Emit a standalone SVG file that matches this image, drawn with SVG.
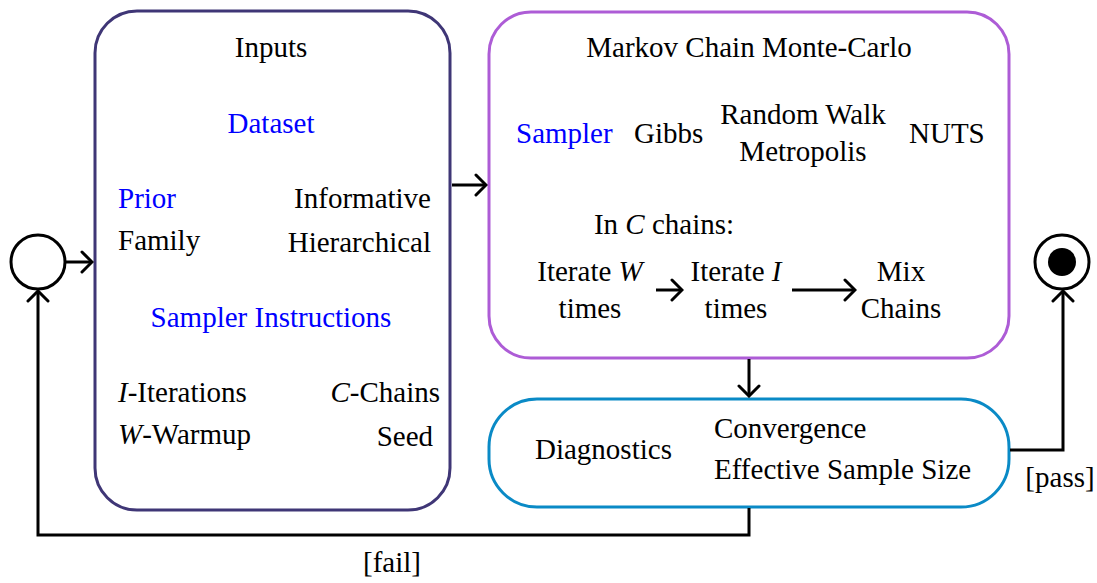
<svg xmlns="http://www.w3.org/2000/svg" width="1097" height="583" viewBox="0 0 1097 583" font-family="'Liberation Serif', Tinos, 'Times New Roman', 'Noto Serif', 'DejaVu Serif', serif">
  <defs>
    <style>
      text { font-family: "Liberation Serif", Tinos, "Times New Roman", "Noto Serif", "DejaVu Serif", serif; font-size: 29px; fill: #000; }
      .c { text-anchor: middle; }
      .r { text-anchor: end; }
      .blue { fill: #0000ff; }
      .box { fill: none; stroke-width: 3; }
      .edge { fill: none; stroke: #000; stroke-width: 3; }
    </style>
    <marker id="arrow" viewBox="-14 -13 16 26" markerWidth="16" markerHeight="26" refX="0" refY="0" orient="auto" markerUnits="userSpaceOnUse">
      <path d="M -10 -10 L 0 0 L -10 10" fill="none" stroke="#000" stroke-width="3" stroke-linecap="round" stroke-linejoin="miter"/>
    </marker>
  </defs>

  <rect width="1097" height="583" fill="#fff"/>

  <!-- start state -->
  <g id="start">
    <circle cx="38" cy="262" r="27" fill="none" stroke="#000" stroke-width="3"/>
  </g>

  <!-- end state -->
  <g id="end">
    <circle cx="1062" cy="262" r="27" fill="none" stroke="#000" stroke-width="3"/>
    <circle cx="1062" cy="262" r="14" fill="#000"/>
  </g>

  <!-- inputs box -->
  <g id="inputs">
    <rect class="box" x="95" y="11" width="355" height="499" rx="42" ry="42" stroke="#3f3676"/>
    <text class="c" x="271" y="57">Inputs</text>
    <text class="c blue" x="271" y="133">Dataset</text>
    <text class="blue" x="118" y="208">Prior</text>
    <text x="118" y="250">Family</text>
    <text class="r" x="431" y="208">Informative</text>
    <text class="r" x="431" y="252">Hierarchical</text>
    <text class="c blue" x="271" y="327">Sampler Instructions</text>
    <text x="118" y="402"><tspan font-style="italic">I</tspan>-Iterations</text>
    <text x="118" y="444"><tspan font-style="italic">W</tspan>-Warmup</text>
    <text class="r" x="440" y="402"><tspan font-style="italic">C</tspan>-Chains</text>
    <text class="r" x="433" y="446">Seed</text>
  </g>

  <!-- mcmc box -->
  <g id="mcmc">
    <rect class="box" x="489" y="12" width="520" height="346" rx="42" ry="42" stroke="#ad5cd6"/>
    <text class="c" x="749" y="57">Markov Chain Monte-Carlo</text>
    <text class="blue" x="516" y="143">Sampler</text>
    <text x="634" y="143">Gibbs</text>
    <text class="c" x="803" y="124">Random Walk</text>
    <text class="c" x="803" y="161">Metropolis</text>
    <text x="909" y="143">NUTS</text>
    <text class="c" x="664" y="234">In <tspan font-style="italic">C</tspan> chains:</text>
    <text class="c" x="590" y="281">Iterate <tspan font-style="italic">W</tspan></text>
    <text class="c" x="590" y="318">times</text>
    <text class="c" x="736" y="281">Iterate <tspan font-style="italic">I</tspan></text>
    <text class="c" x="736" y="318">times</text>
    <text class="c" x="901" y="281">Mix</text>
    <text class="c" x="901" y="318">Chains</text>
  </g>

  <!-- diagnostics box -->
  <g id="diagnostics">
    <rect class="box" x="489" y="399" width="520" height="108" rx="48" ry="48" stroke="#0a8ac6"/>
    <text x="535" y="459">Diagnostics</text>
    <text x="714" y="438">Convergence</text>
    <text x="714" y="479">Effective Sample Size</text>
  </g>

  <!-- connectors -->
  <g id="connectors">
    <path class="edge" d="M 65 262 L 92 262" marker-end="url(#arrow)"/>
    <path class="edge" d="M 452 185 L 486 185" marker-end="url(#arrow)"/>
    <path class="edge" d="M 656 290 L 682 290" marker-end="url(#arrow)"/>
    <path class="edge" d="M 792 290 L 855 290" marker-end="url(#arrow)"/>
    <path class="edge" d="M 749 359 L 749 396" marker-end="url(#arrow)"/>
    <path class="edge" d="M 1010 450 L 1063 450 L 1063 291" marker-end="url(#arrow)"/>
    <path class="edge" d="M 749 508 L 749 535 L 38 535 L 38 291" marker-end="url(#arrow)"/>
    <text class="c" x="1060" y="487">[pass]</text>
    <text class="c" x="392" y="572">[fail]</text>
  </g>
</svg>
